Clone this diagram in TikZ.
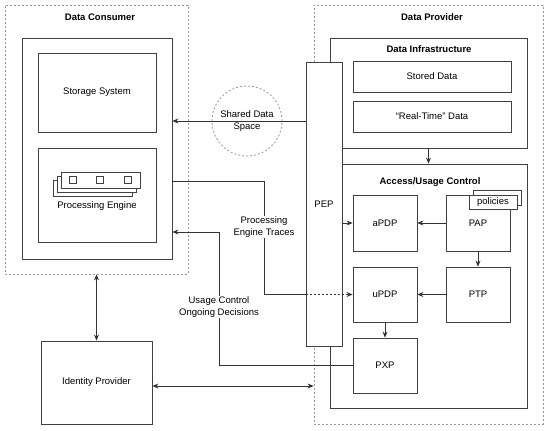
\documentclass[tikz,border=0pt]{standalone}
\usepackage{fontspec}
\setmainfont{Liberation Sans}
\usetikzlibrary{arrows.meta}

\tikzset{
	box/.style={draw=black!75, fill=white, line width=0.8pt, inner sep=0pt},
	zone/.style={draw=black!40, line width=0.8pt, dash pattern=on 2pt off 2pt, inner sep=0pt},
	link/.style={draw=black!80, line width=0.8pt},
	tag/.style={fill=white, inner sep=1pt, align=center},
}

\begin{document}
\begin{tikzpicture}[x=1pt, y=-1pt, font=\fontsize{9.5}{11.5}\selectfont,
	>={Stealth[length=6pt, width=5pt]}]
	\useasboundingbox (0,0) rectangle (550,431);
	% zones
	\node (cons) at (96.5,139.5)  [zone, minimum width=183pt, minimum height=269pt] {};
	\node (prov) at (428.5,214.5) [zone, minimum width=229pt, minimum height=419pt] {};
	\node (consT) at (100,17)  {\bfseries Data Consumer};
	\node (provT) at (432,17)  {\bfseries Data Provider};
	% data consumer
	\node (consIn) at (97,148.5) [box, minimum width=150pt, minimum height=221pt] {};
	\node (stor)   at (97,92.5)  [box, minimum width=118pt, minimum height=79pt] {Storage System};
	\node (proc)   at (97,195)   [box, minimum width=118pt, minimum height=94pt] {};
	\foreach \d in {8,4,0}
		\draw[box] (61-\d,172+\d) rectangle (140-\d,188+\d);
	\foreach \x in {73,100,128}
		\draw[box] (\x-3.5,176.5) rectangle (\x+3.5,183.5);
	\node (procT)  at (97,206) {Processing Engine};
	% shared data space
	\node (sds) at (247,121) [draw=black!40, line width=0.8pt, dash pattern=on 2pt off 2pt,
		circle, minimum size=70pt, inner sep=0pt, align=center] {Shared Data\\Space};
	% data provider
	\node (infra)  at (428.5,93)   [box, minimum width=197pt, minimum height=110pt] {};
	\node (infraT) at (429,49)     {\bfseries Data Infrastructure};
	\node (stored) at (432,76.5)   [box, minimum width=158pt, minimum height=31pt] {Stored Data};
	\node (rt)     at (432,116.5)  [box, minimum width=158pt, minimum height=31pt] {``Real-Time'' Data};
	\node (ctrl)   at (428.5,286)  [box, minimum width=197pt, minimum height=244pt] {};
	\node (ctrlT)  at (430,182)    {\bfseries Access/Usage Control};
	\node (pep)    at (324,204)    [box, minimum width=36pt, minimum height=284pt] {PEP};
	\node (apdp)   at (385,223)    [box, minimum width=64pt, minimum height=56pt] {aPDP};
	\node (pap)    at (478,223)    [box, minimum width=64pt, minimum height=56pt] {PAP};
	\node (updp)   at (385,294.5)  [box, minimum width=64pt, minimum height=55pt] {uPDP};
	\node (ptp)    at (478,294.5)  [box, minimum width=64pt, minimum height=55pt] {PTP};
	\node (pxp)    at (385,365.5)  [box, minimum width=64pt, minimum height=55pt] {PXP};
	\node (polB)   at (497,197.5)  [box, minimum width=48pt, minimum height=15pt] {};
	\node (pol)    at (493,202)    [box, minimum width=48pt, minimum height=14pt] {policies};
	% identity provider
	\node (idp) at (96.5,382.5) [box, minimum width=111pt, minimum height=83pt] {Identity Provider};
	% bends
	\coordinate (trBend)  at (264,181);
	\coordinate (decBend) at (219,232);
	\coordinate (idRow)   at (200,386);
	% Draw the connectors
	\draw[link,->] (pep.west |- sds.center) -- (consIn.east |- sds.center);
	\draw[link] (consIn.east |- trBend) -- (trBend) |- (pep.west |- updp);
	\draw[link,->, dash pattern=on 2pt off 2pt] (pep.west |- updp) -- (updp.west);
	\draw[link,->] (pxp.west) -| (decBend) -- (consIn.east |- decBend);
	\draw[link,->] (infra.south) -- (ctrl.north);
	\draw[link,->] (pep.east |- apdp) -- (apdp.west);
	\draw[link,->] (pap) -- (apdp);
	\draw[link,->] (pap) -- (ptp);
	\draw[link,->] (ptp) -- (updp);
	\draw[link,->] (updp) -- (pxp);
	\draw[link,<->] (cons.south -| idp) -- (idp.north);
	\draw[link,<->] (idp.east |- idRow) -- (prov.west |- idRow);
	% labels
	\node (trT)  at (264,227) [tag] {Processing\\Engine Traces};
	\node (decT) at (219,307) [tag] {Usage Control\\Ongoing Decisions};
\end{tikzpicture}
\end{document}
